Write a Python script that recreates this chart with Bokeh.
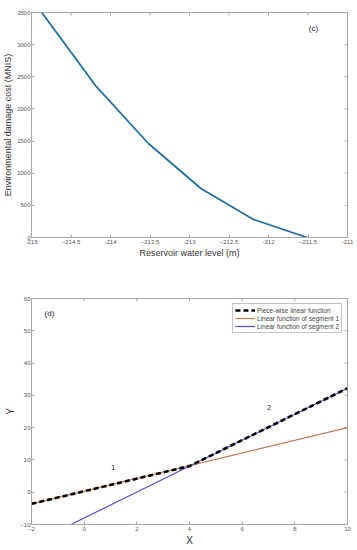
import math
from bokeh.plotting import figure
from bokeh.models import FixedTicker, Range1d, Label, Legend, LegendItem
from bokeh.layouts import column
from bokeh.embed import file_html
from bokeh.resources import INLINE

# ---- data (c) ----
level = [-214.87, -214.19, -213.52, -212.855, -212.19, -211.51]
cost = [3500, 2364, 1462, 762, 280, 0]
c_xticks = [-215, -214.5, -214, -213.5, -213, -212.5, -212, -211.5, -211]
c_yticks = [0, 500, 1000, 1500, 2000, 2500, 3000, 3500]

# ---- data (d) ----
pw_x = [-2, 4, 10]
pw_y = [-3.6, 8.1, 32.2]
s1_x = [-2, 10]
s1_y = [-3.6, 20.0]
s2_x = [-0.5, 10]
s2_y = [-10.0, 32.2]
d_xticks = [-2, 0, 2, 4, 6, 8, 10]
d_yticks = [-10, 0, 10, 20, 30, 40, 50, 60]

AX = "#a8a8a8"
TL = "#555555"
FONT = "Liberation Sans"


def style(p, xt, yt, xlab, ylab, lab_size):
    p.below[0].ticker = FixedTicker(ticks=xt)
    p.left[0].ticker = FixedTicker(ticks=yt)
    for ax in p.below + p.left:
        ax.axis_line_color = AX
        ax.major_tick_line_color = AX
        ax.minor_tick_line_color = None
        ax.major_tick_in = 3
        ax.major_tick_out = 0
        ax.major_label_text_color = TL
        ax.major_label_text_font = FONT
        ax.major_label_text_font_size = "6px"
        ax.major_label_standoff = 2
        ax.axis_label_text_font = FONT
        ax.axis_label_text_font_style = "normal"
        ax.axis_label_text_color = "#333333"
        ax.axis_label_text_font_size = lab_size
        ax.axis_label_standoff = 1
    p.left[0].major_label_standoff = 1
    p.below[0].axis_label = xlab
    p.left[0].axis_label = ylab
    p.grid.visible = False
    p.outline_line_color = AX
    # inward ticks on the top and right edges (clipped to frame)
    y_top = p.y_range.end
    x_right = p.x_range.end
    p.scatter(xt, [y_top] * len(xt), marker="dash", size=6, angle=math.pi / 2,
              line_color=AX, line_width=1)
    p.scatter([x_right] * len(yt), yt, marker="dash", size=6,
              line_color=AX, line_width=1)


p1 = figure(width=353, height=261, output_backend="svg", toolbar_location=None,
            x_range=Range1d(-215, -211), y_range=Range1d(0, 3500),
            min_border_left=20, min_border_right=6, min_border_top=12, min_border_bottom=24)
style(p1, c_xticks, c_yticks, "Reservoir water level (m)", "Environmental damage cost (MNIS)", "9px")
p1.below[0].major_label_overrides = {-215: "-215", -214: "-214", -213: "-213", -212: "-212", -211: "-211"}
p1.line(level, cost, line_color="#1f6fa6", line_width=1.8)
p1.add_layout(Label(x=-211.43, y=3250, text="(c)", text_font=FONT, text_font_size="8px",
                    text_color="#222222", text_align="center", text_baseline="middle"))

p2 = figure(width=353, height=287, output_backend="svg", toolbar_location=None,
            x_range=Range1d(-2, 10), y_range=Range1d(-10, 60),
            min_border_left=20, min_border_right=6, min_border_top=37, min_border_bottom=24)
style(p2, d_xticks, d_yticks, "X", "Y", "10px")
r_s1 = p2.line(s1_x, s1_y, line_color="#c47a5a", line_width=1.2)
r_s2 = p2.line(s2_x, s2_y, line_color="#4f4fe0", line_width=1.2)
r_pw = p2.line(pw_x, pw_y, line_color="black", line_width=2.6, line_dash="5 3")
p2.add_layout(Label(x=-1.32, y=55.4, text="(d)", text_font=FONT, text_font_size="8px",
                    text_color="#222222", text_align="center", text_baseline="middle"))
p2.add_layout(Label(x=1.1, y=7.8, text="1", text_font=FONT, text_font_size="7px",
                    text_color="#222222", text_align="center", text_baseline="middle"))
p2.add_layout(Label(x=7.03, y=26.3, text="2", text_font=FONT, text_font_size="7px",
                    text_color="#222222", text_align="center", text_baseline="middle"))
leg = Legend(items=[LegendItem(label="Piece-wise linear function", renderers=[r_pw]),
                    LegendItem(label="Linear function of segment 1", renderers=[r_s1]),
                    LegendItem(label="Linear function of segment 2", renderers=[r_s2])],
             location="top_right", label_text_font=FONT, label_text_font_size="6.5px",
             label_height=8, glyph_height=8, glyph_width=20, spacing=0, padding=2,
             margin=5, label_standoff=2, border_line_color="#888888",
             background_fill_alpha=1)
p2.add_layout(leg)

lay = column(p1, p2, spacing=0)
open("out.html", "w").write(file_html(lay, INLINE))
